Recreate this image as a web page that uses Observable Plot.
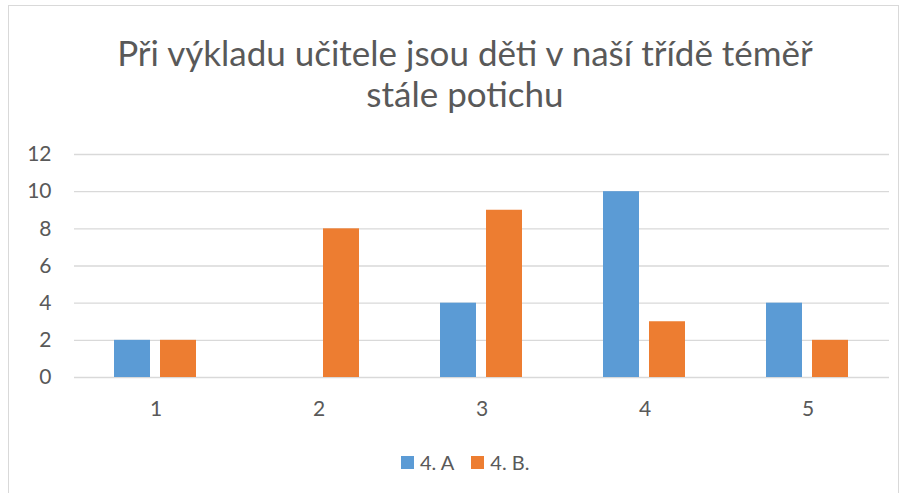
<!DOCTYPE html>
<html><head><meta charset="utf-8">
<script src="https://cdn.jsdelivr.net/npm/d3@7"></script>
<script src="https://cdn.jsdelivr.net/npm/@observablehq/plot@0.6"></script>
<style>
body{margin:0;background:#fff;font-family:Lato,"Open Sans",sans-serif;width:908px;height:493px;overflow:hidden;position:relative}
#frame{position:absolute;left:8px;top:5px;width:891px;height:500px;border:1px solid #d9d9d9;box-sizing:border-box}
#title{position:absolute;left:0;top:32px;width:930px;text-align:center;font-size:35px;line-height:41px;color:#595959}
#chart{position:absolute;left:0;top:130px}
#chart svg text{font-size:21px !important;font-family:Lato,"Open Sans",sans-serif}
#legend{position:absolute;left:401px;top:450px;height:24px;display:flex;align-items:center;font-size:20px;color:#595959}
.sw{display:inline-block;width:13px;height:13px;margin-right:6px}
.item{display:flex;align-items:center;margin-right:17px}
</style></head>
<body>
<div id="frame"></div>
<div id="title">Při výkladu učitele jsou děti v naší třídě téměř<br>stále potichu</div>
<div id="chart"></div>
<div id="legend"></div>
<script>
const categories = ["1", "2", "3", "4", "5"];
const seriesNames = ["4. A", "4. B."];
const seriesA = [2, 0, 4, 10, 4];
const seriesB = [2, 8, 9, 3, 2];
const colors = ["#5b9bd5", "#ed7d31"];
const yTicks = [0, 2, 4, 6, 8, 10, 12];

const data = [];
categories.forEach((c, i) => {
  data.push({cat: c, series: seriesNames[0], value: seriesA[i]});
  data.push({cat: c, series: seriesNames[1], value: seriesB[i]});
});

const font = "Lato, 'Open Sans', sans-serif";
const chart = Plot.plot({
  width: 908,
  height: 300,
  marginTop: 24,
  marginBottom: 53,
  marginLeft: 73,
  marginRight: 18,
  style: {fontFamily: font, fontSize: "21px", color: "#595959", background: "transparent"},
  fx: {domain: categories, padding: 0, label: null},
  x: {domain: seriesNames, axis: null, paddingInner: 0.21, paddingOuter: 0.85},
  y: {domain: [0, 12], label: null},
  color: {domain: seriesNames, range: colors},
  marks: [
    Plot.ruleY(yTicks, {stroke: "#d9d9d9", strokeWidth: 1.3}),
    Plot.barY(data, {fx: "cat", x: "series", y: "value", fill: "series"}),
    Plot.axisY(yTicks, {tickSize: 0, tickPadding: 23, fontSize: 21, fill: "#595959", label: null, fontVariant: "normal"}),
    Plot.axisFx({anchor: "bottom", tickSize: 0, tickPadding: 24, fontSize: 21, fill: "#595959", label: null})
  ]
});
document.getElementById("chart").appendChild(chart);

const legend = document.getElementById("legend");
seriesNames.forEach((s, i) => {
  const it = document.createElement("span");
  it.className = "item";
  const sw = document.createElement("span");
  sw.className = "sw";
  sw.style.background = colors[i];
  it.appendChild(sw);
  it.appendChild(document.createTextNode(s));
  legend.appendChild(it);
});
</script>
</body></html>
